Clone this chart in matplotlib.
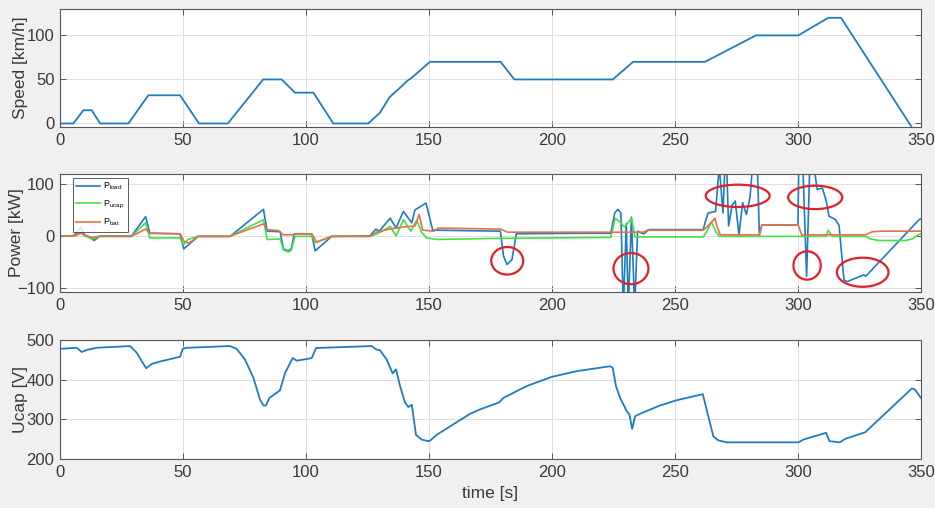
import matplotlib
matplotlib.use("Agg")
import matplotlib.pyplot as plt
from matplotlib.patches import Ellipse
import numpy as np

plt.rcParams['font.family'] = ['Liberation Sans', 'DejaVu Sans']
plt.rcParams['mathtext.fontset'] = 'custom'
plt.rcParams['mathtext.rm'] = 'Liberation Sans'
plt.rcParams['mathtext.it'] = 'Liberation Sans'

# ---------------- data ----------------
speed_t = [0, 5.4, 9.5, 12.9, 16.3, 27.8, 35.9, 48.8, 56.5, 68.2, 82.6, 90.1, 95.5,
           103, 111.1, 125.3, 130, 134, 136, 138, 141, 143, 150.4, 179.1, 184.7,
           224.7, 233, 262.2, 282.9, 300.1, 312.3, 317.5, 346]
speed_v = [0, 0, 15, 15, 0, 0, 32, 32, 0, 0, 50, 50, 35,
           35, 0, 0, 12, 30, 35, 40, 48, 52, 70, 70, 50,
           50, 70, 70, 100, 100, 120, 120, -3]

pload_t = [0, 5, 6.1, 8.5, 9.9, 11.5, 13.9, 16.2, 29.1, 34.8, 36.5, 48.8, 50.3, 56.2,
           69.1, 82.7, 84.2, 89.5, 90.8, 92.8, 94, 95.2, 102.3, 103.7, 110.4, 126,
           128.4, 129.8, 134.2, 136.6, 139.6, 143, 144.3, 148.8, 151.5, 179, 180.3,
           181.7, 183.7, 185.5, 211, 223.9, 225.5, 226.8, 228, 229, 230.2, 231, 232.3,
           233.6, 234.8, 236.5, 237.3, 239.5, 261.5, 262.2, 263.5, 266.5, 268, 269.5,
           270.3, 271, 271.8, 273.2, 274.5, 276, 277.5, 279, 280.5, 281.5, 283.5,
           284.3, 285.3, 300, 300.3, 302, 303.5, 304.8, 306.5, 307.8, 309.9, 311.5,
           312.6, 315.3, 316.7, 318.7, 320, 326.8, 327.5, 349.2, 350]
pload_v = [1, 1, 3, 17, 3, 0, -8, 1, 1, 38, 6, 5, -24, 0,
           0, 52, 10, 9, -24, -28, -24, 5, 5, -28, 0, 1,
           14, 10, 35, 16, 48, 26, 51, 64, 12, 10, -38,
           -54, -45, 5, 6, 6, 45, 52, 45, -140, 25, -140, 37,
           -140, 10, 6, 5, 13, 13, 26, 45, 48, 135, 45,
           135, 135, 20, 60, 68, 3, 65, 42, 75, 135, 135,
           3, 22, 22, 135, 135, -77, 135, 135, 90, 93, 68,
           39, 32, 21, -84, -87, -74, -77, 32, 34]

pucap_t = [0, 6, 8.5, 10, 13, 16, 29, 34.8, 36.5, 48.8, 50.2, 52, 56, 69, 82.7, 84.2,
           89.5, 90.8, 92.8, 94, 95.5, 102.5, 103.7, 110.4, 126, 129, 134.2, 136.6,
           139.6, 142.6, 145, 147, 149, 153.3, 175, 223.9, 225.7, 228, 229.5, 232.3,
           233.7, 261.5, 263, 264.8, 266.5, 268, 311.5, 312.3, 313.9, 327.5, 329.5,
           332.9, 343.7, 346.4, 349.2, 350]
pucap_v = [0, 1, 8, 1, -5, 0, 0, 26, -3, -3, -16, -6, 0, 0, 32, -6,
           -5, -26, -30, -27, 0, 0, -12, 0, 0, 5, 19, 1,
           32, 10, 31, 8, -3, -6, -4, -2, 35, 26, 18, 35,
           -1, -1, 10, 28, 10, 0, 0, 12, 0, 0, -5,
           -8, -8, -5, 4, 5]

pbat_t = [0, 6, 8.5, 10, 13, 16, 29, 34.8, 36.5, 48.8, 50.5, 52.5, 56, 69, 82.7, 84.2,
          88.8, 90.8, 95, 96, 102.3, 104.4, 110.4, 126, 128.6, 134, 139.6, 144.3, 146,
          147.4, 152, 153.8, 179, 182, 237, 239, 261.5, 263, 266.3, 267, 268.4, 284.4,
          285.3, 300.1, 301.5, 327.5, 330.2, 334.3, 350]
pbat_v = [0, 1, 6, 2, -2, 0, 0, 14, 6, 5, -10, -13, 0, 0, 24, 13,
          11, 3, 3, 5, 5, -11, 0, 0, 8, 14, 18, 20, 42,
          12, 10, 16, 14, 8, 8, 12, 12, 18, 35, 20, 3, 3,
          22, 22, 3, 3, 9, 10, 10]

ucap_t = [0, 6.8, 8.8, 10.8, 14.9, 28.5, 31.2, 33.2, 35, 37.3, 40.7, 48.8, 49.9, 51.5,
          69.1, 71.8, 75.2, 78.6, 81.3, 82.7, 83.7, 85.1, 89.4, 91.5, 94.6, 96.2, 102.3,
          104.1, 126.7, 128.7, 130, 132.8, 135.2, 136.6, 138.2, 140.2, 141.6, 143,
          144.7, 147, 149.7, 150.4, 153.1, 158.5, 166.7, 170.7, 178.6, 180.2, 189.7,
          199.8, 210, 223.6, 224.7, 226, 227.7, 230.4, 231.5, 232.6, 233.8, 236.5,
          243.9, 250.7, 261.3, 265.6, 267.6, 271, 284.6, 300.2, 302.2, 311.4, 312.8,
          317.1, 319.1, 327.3, 337.4, 346.3, 347.6, 350]
ucap_v = [478, 480.6, 470, 475, 480.6, 485, 468, 447, 429, 440, 446, 458, 478, 480.6,
          485, 478, 451, 405, 350, 335, 335, 354, 373, 417, 455, 448, 454.5,
          480, 485, 476, 475, 451, 416, 426, 385, 343, 331, 337,
          261, 249, 245, 246, 261, 282, 314, 325, 343, 354, 384,
          407, 421.6, 434, 430, 384, 354, 320.5, 312, 276, 308, 316,
          335, 348.3, 363.5, 257, 247, 242, 242, 242, 249, 266, 245,
          242, 250.5, 267.4, 326, 378, 375, 354]

# annotation ellipses (centre t, centre kW, width s, height kW)
ell_t = [181.8, 232.1, 275.5, 307.0, 303.7, 326.3]
ell_p = [-47, -62, 78, 75, -56, -69]
ell_w = [13, 14.2, 26, 22, 11.1, 21]
ell_h = [53, 60, 43, 45, 54.5, 56]

legend_labels = [r'P$_{\mathrm{load}}$', r'P$_{\mathrm{ucap}}$', r'P$_{\mathrm{bat}}$']

# ---------------- style ----------------
BLUE = '#1f7cc0'
GREEN = '#45e045'
ORANGE = '#e6704a'
BG = '#f0f0f0'
AXC = '#555555'
TXT = '#3a3a3a'

fig = plt.figure(figsize=(9.35, 5.08), dpi=100, facecolor=BG)

W = 0.9208
L = 0.0642
ax1 = fig.add_axes([L, 0.750, W, 0.2323])
ax2 = fig.add_axes([L, 0.4252, W, 0.2323])
ax3 = fig.add_axes([L, 0.0965, W, 0.2340])

def style(ax, yticks, ylim, ylabel, labx):
    ax.set_xlim(0, 350)
    ax.set_ylim(*ylim)
    ax.set_xticks([0, 50, 100, 150, 200, 250, 300, 350])
    ax.set_yticks(yticks)
    ax.grid(True, color='#dedede', linewidth=0.7)
    ax.set_axisbelow(True)
    ax.tick_params(direction='in', top=True, right=True, length=4, width=0.7,
                   colors=AXC, labelcolor=TXT, labelsize=12, pad=4)
    for s in ax.spines.values():
        s.set_color(AXC)
        s.set_linewidth(0.8)
    ax.set_ylabel(ylabel, fontsize=12.5, color=TXT)
    ax.yaxis.set_label_coords(labx, 0.5)
    ax.set_facecolor('white')

ax1.plot(speed_t, speed_v, color=BLUE, lw=1.3)
style(ax1, [0, 50, 100], (-4, 130), 'Speed [km/h]', -0.037)

ax2.plot(pload_t, pload_v, color=BLUE, lw=1.2, label=legend_labels[0])
ax2.plot(pucap_t, pucap_v, color=GREEN, lw=1.2, label=legend_labels[1])
ax2.plot(pbat_t, pbat_v, color=ORANGE, lw=1.2, label=legend_labels[2])
style(ax2, [-100, 0, 100], (-107, 120), 'Power [kW]', -0.042)
for cx, cy, w, h in zip(ell_t, ell_p, ell_w, ell_h):
    ax2.add_patch(Ellipse((cx, cy), w, h, fill=False, edgecolor='#e0202a', lw=1.6, zorder=5))
leg = ax2.legend(loc='upper left', fontsize=6.5, frameon=True, fancybox=False,
                 handlelength=2.7, borderpad=0.35, labelspacing=0.7,
                 bbox_to_anchor=(0.015, 0.97), handletextpad=0.3, borderaxespad=0)
leg.get_frame().set_edgecolor('#333333')
leg.get_frame().set_linewidth(0.7)

ax3.plot(ucap_t, ucap_v, color=BLUE, lw=1.3)
style(ax3, [200, 300, 400, 500], (200, 500), 'Ucap [V]', -0.037)
ax3.set_xlabel('time [s]', fontsize=12.5, color=TXT, labelpad=5)

fig.savefig('out.png', dpi=100, facecolor=BG)
